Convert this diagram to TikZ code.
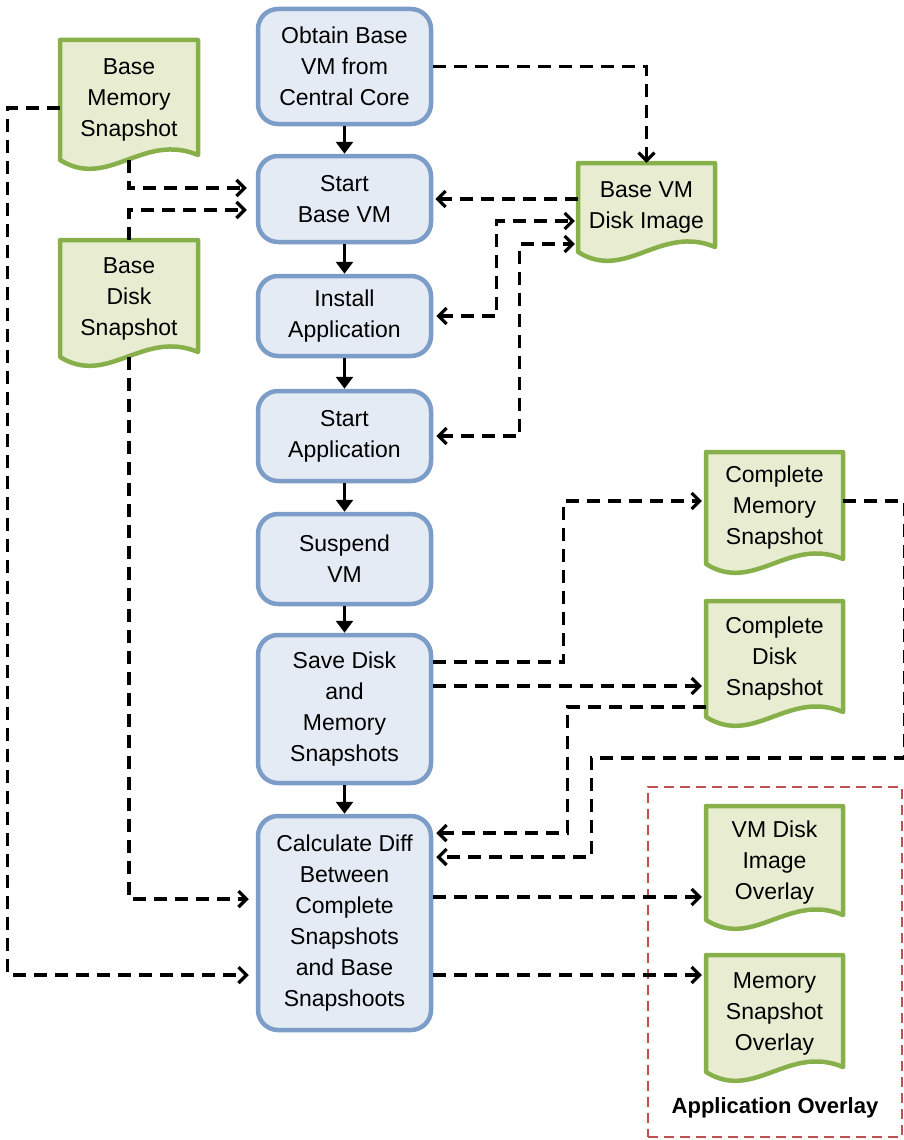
\documentclass[tikz,border=0pt]{standalone}
\usepackage{fontspec}
\setmainfont{Liberation Sans}
\usetikzlibrary{arrows.meta,calc}
\definecolor{procfill}{HTML}{E4EBF5}
\definecolor{procdraw}{HTML}{7C9DC7}
\definecolor{docfill}{HTML}{E8EDD2}
\definecolor{docdraw}{HTML}{88B04A}
\definecolor{groupred}{HTML}{C0504D}
\newcommand\docnode[6]{%
  \filldraw[docshape] (#2,#3) -- (#4,#3) -- (#4,{#5-5})
    .. controls ({#2+0.6*(#4-#2)},{#5-28}) and ({#2+0.35*(#4-#2)},{#5+30}) .. (#2,#5) -- cycle;
  \pgfmathsetmacro\dw{#4-#2}\pgfmathsetmacro\dh{#5-#3}%
  \node[doctext, minimum width=\dw pt, minimum height=\dh pt] (#1) at ({(#2+#4)/2},{(#3+#5)/2}) {#6};
}
\begin{document}
\begin{tikzpicture}[x=1pt,y=-1pt,
  every node/.style={font=\fontsize{23}{31}\selectfont, align=center},
  proc/.style={draw=procdraw, fill=procfill, line width=4.5pt, rounded corners=20pt,
               minimum width=173pt, inner sep=2pt},
  docshape/.style={draw=docdraw, fill=docfill, line width=4.5pt, line join=round},
  doctext/.style={inner sep=0pt, draw=none},
  flow/.style={line width=3.5pt, -{Triangle[width=17pt,length=12pt]}},
  link/.style={line width=3.2pt, dash pattern=on 13pt off 8pt,
               -{Straight Barb[length=8pt,width=16pt]}},
  biline/.style={link, {Straight Barb[length=8pt,width=16pt]}-{Straight Barb[length=8pt,width=16pt]}},
  group/.style={draw=groupred, line width=2.6pt, dash pattern=on 10pt off 6pt},
]
\useasboundingbox (0,0) rectangle (904,1140);

% process boxes
\node[proc, minimum height=115pt] (obt)  at (344.5,66.5) {Obtain Base\\VM from\\Central Core};
\node[proc, minimum height=86pt]  (sbv)  at (344.5,199)  {Start\\Base VM};
\node[proc, minimum height=80pt]  (ins)  at (344.5,316)  {Install\\Application};
\node[proc, minimum height=90pt]  (sap)  at (344.5,436)  {Start\\Application};
\node[proc, minimum height=90pt]  (sus)  at (344.5,559)  {Suspend\\VM};
\node[proc, minimum height=148pt] (save) at (344.5,709)  {Save Disk\\and\\Memory\\Snapshots};
\node[proc, minimum height=214pt] (calc) at (344.5,923)  {Calculate Diff\\Between\\Complete\\Snapshots\\and Base\\Snapshoots};

% group box
\node[group, minimum width=254pt, minimum height=350pt] (grp) at (775,962) {};
\node[font=\fontsize{22}{26}\selectfont\bfseries] (grplabel) at (775,1108) {Application Overlay};

% documents
\docnode{bms}{60}{40}{198}{160}{Base\\Memory\\Snapshot}
\docnode{bds}{60}{240}{198}{357}{Base\\Disk\\Snapshot}
\docnode{bvm}{578}{163}{715}{252}{Base VM\\Disk Image}
\docnode{cms}{706}{452}{843}{564}{Complete\\Memory\\Snapshot}
\docnode{cds}{706}{601}{843}{717}{Complete\\Disk\\Snapshot}
\docnode{vmo}{706}{806}{843}{920}{VM Disk\\Image\\Overlay}
\docnode{mso}{706}{955}{843}{1072}{Memory\\Snapshot\\Overlay}

% main flow
\draw[flow] (obt) -- (sbv);
\draw[flow] (sbv) -- (ins);
\draw[flow] (ins) -- (sap);
\draw[flow] (sap) -- (sus);
\draw[flow] (sus) -- (save);
\draw[flow] (save) -- (calc);

% data links
\draw[link] (obt.east) -| (bvm.north);
\draw[link] (bvm.west |- sbv.east) -- ($(sbv.east)+(2,0)$);
\draw[biline] ($(ins.east)+(3,0)$) -| ($(bvm.west)+(-81,13.5)$) -- ($(bvm.west)+(-3,13.5)$);
\draw[biline] ($(sap.east)+(3,0)$) -| ($(bvm.west)+(-58,36.5)$) -- ($(bvm.west)+(-3,36.5)$);

\draw[link] (bms.south) |- ($(sbv.west)+(-9,-11)$);
\draw[link] (bds.north) |- ($(sbv.west)+(-9,11)$);
\draw[link] ($(bms.west)+(0,8)$) -- ++(-52,0) |- ($(calc.west)+(-7,52)$);
\draw[link] (bds.south) |- ($(calc.west)+(-7,-24)$);

\draw[link] ($(save.east)+(0,-47)$) -| ($(cms.west)+(-142,-7)$) -- ($(cms.west)+(-4,-7)$);
\draw[link] ($(save.east)+(0,-23)$) -- ($(cds.west)+(-4,27)$);
\draw[link] ($(cds.west)+(0,48)$) -| ($(calc.east)+(134,-90)$) -- ($(calc.east)+(3,-90)$);
\draw[link] ($(cms.east)+(0,-7)$) -| ($(calc.east)+(471,-165)$) -| ($(calc.east)+(158,-66)$) -- ($(calc.east)+(3,-66)$);
\draw[link] ($(calc.east)+(0,-26)$) -- ($(vmo.west)+(-4,34)$);
\draw[link] ($(calc.east)+(0,52)$) -- ($(mso.west)+(-4,-38.5)$);
\end{tikzpicture}
\end{document}
